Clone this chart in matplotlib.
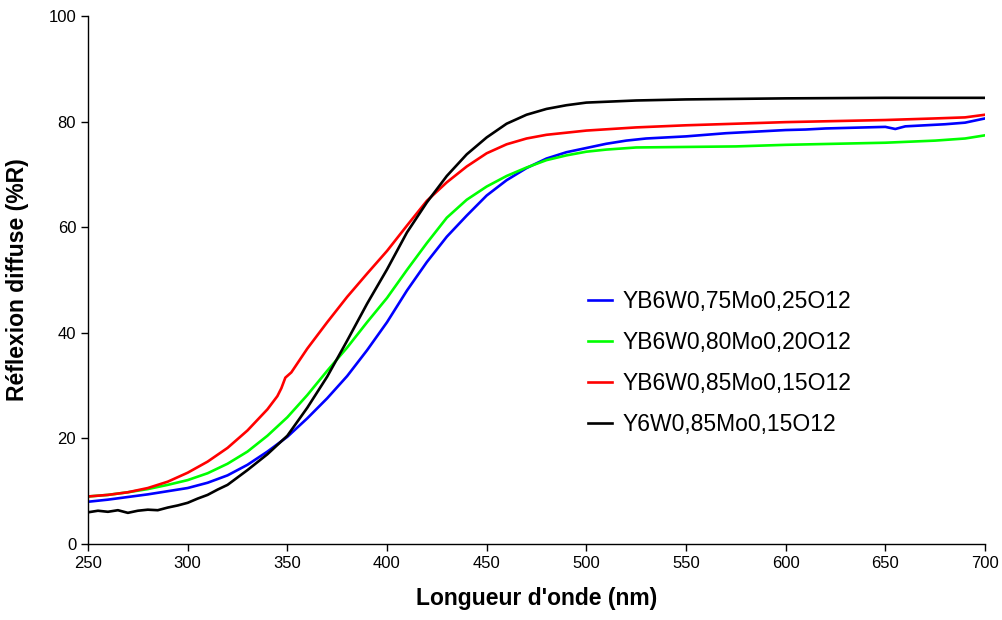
import matplotlib
matplotlib.use('Agg')
import matplotlib.pyplot as plt

# wavelength (nm) and diffuse reflectance (%R)
wl_blue = [250, 260, 270, 280, 290, 300, 310, 320, 330, 340, 350, 360, 370, 380, 390, 400, 410, 420, 430,
           440, 450, 460, 470, 480, 490, 500, 510, 520, 530, 540, 550, 560, 570, 580, 590, 600, 610, 620,
           630, 640, 650, 655, 660, 670, 680, 690, 700]
r_blue = [8.0, 8.4, 8.9, 9.4, 10.0, 10.6, 11.6, 13.0, 15.0, 17.5, 20.3, 23.8, 27.6, 31.8, 36.7, 42.0, 48.0,
          53.4, 58.2, 62.2, 66.0, 68.9, 71.2, 73.0, 74.2, 75.0, 75.8, 76.4, 76.8, 77.0, 77.2, 77.5, 77.8,
          78.0, 78.2, 78.4, 78.5, 78.7, 78.8, 78.9, 79.0, 78.6, 79.1, 79.3, 79.5, 79.8, 80.6]

wl_green = [250, 260, 270, 280, 290, 300, 310, 320, 330, 340, 350, 360, 370, 380, 390, 400, 410, 420, 430,
            440, 450, 460, 470, 480, 490, 500, 510, 525, 550, 575, 600, 625, 650, 675, 690, 700]
r_green = [9.0, 9.3, 9.8, 10.4, 11.2, 12.1, 13.4, 15.2, 17.5, 20.5, 24.0, 28.2, 32.8, 37.2, 42.0, 46.6, 51.9,
           57.0, 61.8, 65.2, 67.7, 69.7, 71.3, 72.7, 73.6, 74.3, 74.7, 75.1, 75.2, 75.3, 75.6, 75.8, 76.0,
           76.4, 76.8, 77.4]

wl_red = [250, 260, 270, 280, 290, 300, 310, 320, 330, 340, 345, 347, 349, 352, 360, 370, 380, 390, 400, 410,
          420, 430, 440, 450, 460, 470, 480, 490, 500, 525, 550, 575, 600, 625, 650, 675, 690, 700]
r_red = [9.0, 9.3, 9.8, 10.6, 11.8, 13.5, 15.6, 18.2, 21.5, 25.5, 28.0, 29.5, 31.5, 32.5, 37.0, 42.0, 46.8,
         51.2, 55.5, 60.3, 65.0, 68.5, 71.5, 74.0, 75.7, 76.8, 77.5, 77.9, 78.3, 78.9, 79.3, 79.6, 79.9, 80.1,
         80.3, 80.6, 80.8, 81.3]

wl_black = [250, 255, 260, 265, 270, 275, 280, 285, 290, 295, 300, 305, 310, 315, 320, 325, 330, 335, 340, 350,
            360, 370, 380, 390, 400, 410, 420, 430, 440, 450, 460, 470, 480, 490, 500, 525, 550, 600, 650, 700]
r_black = [6.0, 6.3, 6.1, 6.4, 5.9, 6.3, 6.5, 6.4, 6.9, 7.3, 7.8, 8.6, 9.3, 10.3, 11.2, 12.6, 14.0, 15.5, 17.0,
           20.5, 25.8, 31.7, 38.5, 45.5, 52.0, 59.0, 64.7, 69.7, 73.8, 77.0, 79.6, 81.3, 82.4, 83.1, 83.6, 84.0,
           84.2, 84.4, 84.5, 84.5]

labels = ['YB6W0,75Mo0,25O12', 'YB6W0,80Mo0,20O12', 'YB6W0,85Mo0,15O12', 'Y6W0,85Mo0,15O12']
colors = ['#0000ff', '#00ff00', '#ff0000', '#000000']

plt.rcParams['font.family'] = ['Liberation Sans', 'DejaVu Sans']

fig = plt.figure(figsize=(10.03, 6.2), dpi=100)
ax = fig.add_axes([88 / 1003, 76 / 620, 897 / 1003, 528 / 620])

series = [(wl_blue, r_blue), (wl_green, r_green), (wl_red, r_red), (wl_black, r_black)]
for (x, y), lab, col in zip(series, labels, colors):
    ax.plot(x, y, color=col, lw=1.9, label=lab)

ax.set_xlim(250, 700)
ax.set_ylim(0, 100)
ax.set_xticks(range(250, 701, 50))
ax.set_yticks(range(0, 101, 20))
ax.tick_params(direction='out', length=5, width=1, labelsize=12, colors='black')
for side in ['top', 'right']:
    ax.spines[side].set_visible(False)
for side in ['left', 'bottom']:
    ax.spines[side].set_linewidth(1)

ax.set_xlabel("Longueur d'onde (nm)", fontsize=16.5, fontweight='bold', labelpad=12)
ax.set_ylabel('Réflexion diffuse (%R)', fontsize=16.5, fontweight='bold', labelpad=14)

ax.legend(loc='upper left', bbox_to_anchor=(588 / 1003, 1 - 290 / 620), bbox_transform=fig.transFigure,
          frameon=False, fontsize=16.5, handlelength=1.05, handletextpad=0.45, labelspacing=0.78,
          borderpad=0, borderaxespad=0)

fig.savefig('out.png', dpi=100)
